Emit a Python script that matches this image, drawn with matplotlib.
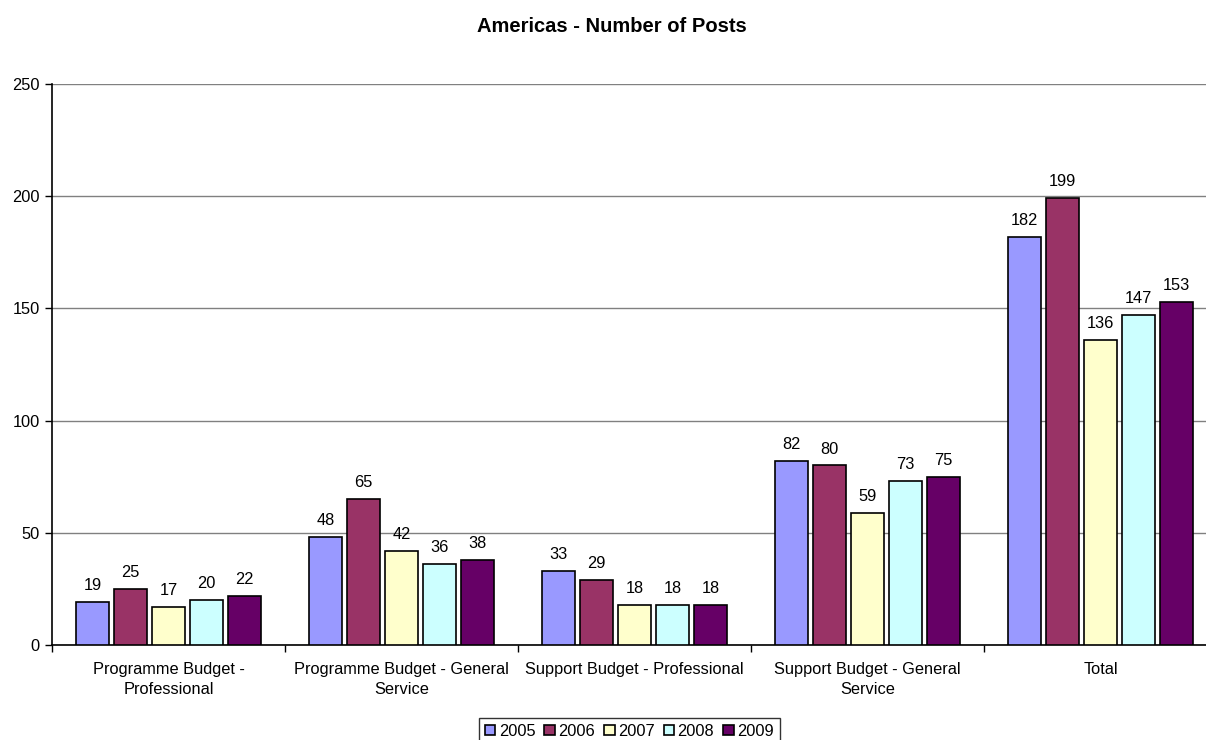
import matplotlib
matplotlib.use("Agg")
import matplotlib.pyplot as plt
import numpy as np
from matplotlib.patches import Patch

plt.rcParams['font.family'] = ['Liberation Sans', 'DejaVu Sans']

categories = ["Programme Budget -\nProfessional",
              "Programme Budget - General\nService",
              "Support Budget - Professional",
              "Support Budget - General\nService",
              "Total"]
years = ["2005", "2006", "2007", "2008", "2009"]
values_2005 = [19, 48, 33, 82, 182]
values_2006 = [25, 65, 29, 80, 199]
values_2007 = [17, 42, 18, 59, 136]
values_2008 = [20, 36, 18, 73, 147]
values_2009 = [22, 38, 18, 75, 153]
series = [values_2005, values_2006, values_2007, values_2008, values_2009]
colors = ["#9999FF", "#993366", "#FFFFCC", "#CCFFFF", "#660066"]

W, H = 1206, 740
fig = plt.figure(figsize=(W / 100, H / 100), dpi=100)
left, right, top, bottom = 52, 52 + 5 * 233, 84, 645
ax = fig.add_axes([left / W, 1 - bottom / H, (right - left) / W, (bottom - top) / H])

fs = 11.8
pitch = 38 / 233
bw = 33 / 233
x = np.arange(len(categories))
for i, (vals, c) in enumerate(zip(series, colors)):
    pos = x + (i - 2) * pitch
    bars = ax.bar(pos, vals, width=bw, color=c, edgecolor="black", linewidth=1.2, zorder=3)
    for b, v in zip(bars, vals):
        ax.text(b.get_x() + b.get_width() / 2, v + 4, str(v), ha="center", va="bottom",
                fontsize=fs, zorder=4)

ax.set_xlim(-0.5, 4.5)
ax.set_ylim(0, 250)
ax.set_yticks(np.arange(0, 251, 50))
ax.tick_params(axis="y", labelsize=fs, length=5, width=1, direction="out", pad=4)
ax.set_xticks(np.arange(-0.5, 4.6, 1.0))
ax.set_xticklabels([])
ax.set_xticks(x, minor=True)
ax.set_xticklabels(categories, minor=True, fontsize=fs, linespacing=1.45)
ax.tick_params(axis="x", which="major", length=5, width=1, direction="out")
ax.tick_params(axis="x", which="minor", length=0, pad=12)

ax.yaxis.grid(True, color="#808080", linewidth=1, zorder=0)
ax.set_axisbelow(True)
for s in ["top", "right"]:
    ax.spines[s].set_visible(False)
ax.spines["left"].set_linewidth(1.2)
ax.spines["bottom"].set_linewidth(1.2)

fig.text(612 / W, 1 - 26 / H, "Americas - Number of Posts", ha="center", va="center",
         fontsize=14.5, fontweight="bold")

handles = [Patch(facecolor=c, edgecolor="black", linewidth=1.2) for c in colors]
leg = fig.legend(handles, years, loc="upper left", bbox_to_anchor=(479 / W, 1 - 718 / H),
                 ncol=5, fontsize=fs, frameon=True, fancybox=False, handlelength=0.65,
                 handleheight=0.65, handletextpad=0.2, columnspacing=0.55, borderpad=0.35,
                 borderaxespad=0)
leg.get_frame().set_edgecolor("black")
leg.get_frame().set_linewidth(1)

fig.savefig("out.png", dpi=100)
